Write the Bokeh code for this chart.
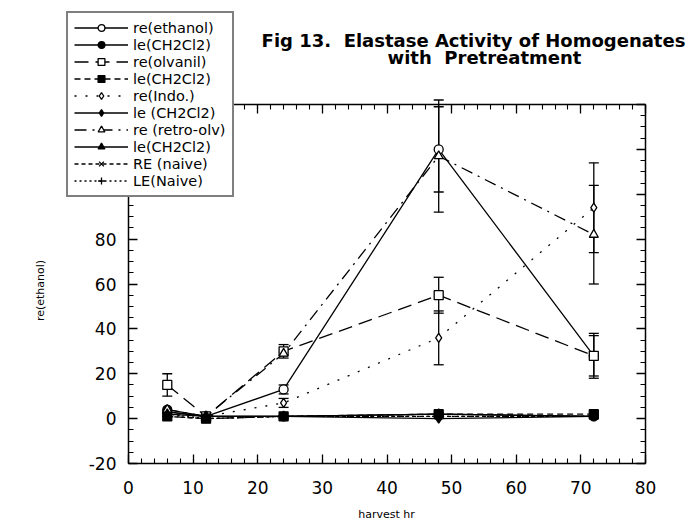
import math
from bokeh.plotting import figure
from bokeh.models import (ColumnDataSource, Legend, LegendItem, Label, LinearAxis,
                          FixedTicker, Whisker, TeeHead, Range1d)
from bokeh.embed import file_html
from bokeh.resources import INLINE

# ---- data ----
hours = [6, 12, 24, 48, 72]
series_names = ["re(ethanol)", "le(CH2Cl2)", "re(olvanil)", "le(CH2Cl2)", "re(Indo.)",
                "le (CH2Cl2)", "re (retro-olv)", "le(CH2Cl2)", "RE (naive)", "LE(Naive)"]
re_ethanol = [3, 1, 13, 120, 28]
le_ch2cl2_a = [4, 1, 1, 2, 1]
re_olvanil = [15, 1, 30, 55, 28]
le_ch2cl2_b = [1, 0, 1, 2, 2]
re_indo = [2, 1, 7, 36, 94]
le_ch2cl2_c = [3, 1, 1, 0, 1]
re_retro = [4, 1, 29, 117, 82]
le_ch2cl2_d = [2, 1, 1, 2, 1]
re_naive = [1, 0, 1, 1, 1]
le_naive = [2, 0, 1, 1, 1]

err_ethanol = [0, 0, 2, 19, 10]
err_olvanil = [5, 0, 3, 8, 9]
err_indo = [0, 0, 2, 12, 20]
err_retro = [0, 0, 0, 25, 22]

x_ticks = [0, 10, 20, 30, 40, 50, 60, 70, 80]
y_ticks = [-20, 0, 20, 40, 60, 80, 100, 120, 140]
y_tick_labels = ["-20", "0", "20", "40", "60", "80", "", "", ""]
x_tick_labels = ["0", "10", "20", "30", "40", "50", "60", "70", "80"]
x_lo, x_hi = 0, 80
y_lo, y_hi = -20, 140

FONT = "DejaVu Sans"
W, H = 687, 525
# plot box in canvas pixels
BOX_L, BOX_R, BOX_T, BOX_B = 128, 645, 104, 463
sx = (BOX_R - BOX_L) / (x_hi - x_lo)
sy = (BOX_B - BOX_T) / (y_hi - y_lo)
x_range = Range1d(x_lo - BOX_L / sx, x_hi + (W - BOX_R) / sx)
y_range = Range1d(y_lo - (H - BOX_B) / sy, y_hi + BOX_T / sy)

p = figure(width=W, height=H, output_backend="svg", toolbar_location=None,
           x_range=x_range, y_range=y_range,
           min_border_left=0, min_border_right=0, min_border_top=0, min_border_bottom=0)
p.grid.visible = False
p.outline_line_color = None
p.background_fill_color = "white"
p.border_fill_color = "white"

xt = FixedTicker(ticks=x_ticks, minor_ticks=[v for v in range(x_lo, x_hi + 1, 2)])
yt = FixedTicker(ticks=y_ticks, minor_ticks=[v for v in range(y_lo, y_hi + 1, 5)])

def style_axis(ax):
    ax.axis_line_color = "black"
    ax.axis_line_width = 1.5
    ax.major_tick_in = 9
    ax.major_tick_out = 0
    ax.minor_tick_in = 5
    ax.minor_tick_out = 0
    ax.major_tick_line_width = 1.3
    ax.minor_tick_line_width = 1.1
    ax.major_tick_line_color = "black"
    ax.minor_tick_line_color = "black"
    ax.major_label_text_font = FONT
    ax.major_label_text_font_size = "17px"
    ax.major_label_text_color = "black"

xa = p.xaxis[0]
ya = p.yaxis[0]
xa.ticker = xt
ya.ticker = yt
xa.major_label_overrides = {t: l for t, l in zip(x_ticks, x_tick_labels)}
ya.major_label_overrides = {t: l for t, l in zip(y_ticks, y_tick_labels)}
style_axis(xa)
style_axis(ya)
xa.major_label_standoff = 17
ya.major_label_standoff = 12
xa.fixed_location = y_lo
ya.fixed_location = x_lo
xa.bounds = (x_lo, x_hi)
ya.bounds = (y_lo, y_hi)

ax_top = LinearAxis(ticker=xt, fixed_location=y_hi, bounds=(x_lo, x_hi),
                    major_label_overrides={t: "" for t in x_ticks})
ax_right = LinearAxis(ticker=yt, fixed_location=x_hi, bounds=(y_lo, y_hi),
                      major_label_overrides={t: "" for t in y_ticks})
style_axis(ax_top)
style_axis(ax_right)
p.add_layout(ax_top, "above")
p.add_layout(ax_right, "right")

specs = [
    (re_ethanol, "solid", "circle", "white"),
    (le_ch2cl2_a, "solid", "circle", "black"),
    (re_olvanil, "14 7", "square", "white"),
    (le_ch2cl2_b, "6 4", "square", "black"),
    (re_indo, "2 9", "diamond", "white"),
    (le_ch2cl2_c, "solid", "diamond", "black"),
    (re_retro, "12 6 2 6", "triangle", "white"),
    (le_ch2cl2_d, "solid", "triangle", "black"),
    (re_naive, "4 3", "x", "black"),
    (le_naive, "2 3", "cross", "black"),
]

items = []
for name, (vals, dash, marker, fill) in zip(series_names, specs):
    src = ColumnDataSource(dict(x=hours, y=vals))
    lr = p.line("x", "y", source=src, line_color="black", line_width=1.3, line_dash=dash)
    sr = p.scatter("x", "y", source=src, marker=marker, size=9, line_color="black",
                   fill_color=fill, line_width=1.3)
    items.append(LegendItem(label=name, renderers=[lr, sr]))

for vals, errs in [(re_ethanol, err_ethanol), (re_olvanil, err_olvanil),
                   (re_indo, err_indo), (re_retro, err_retro)]:
    xs = [h for h, e in zip(hours, errs) if e > 0]
    up = [v + e for v, e in zip(vals, errs) if e > 0]
    lo = [v - e for v, e in zip(vals, errs) if e > 0]
    es = ColumnDataSource(dict(base=xs, upper=up, lower=lo))
    w = Whisker(source=es, base="base", upper="upper", lower="lower", dimension="height",
                line_color="black", line_width=1.3,
                upper_head=TeeHead(size=10, line_color="black", line_width=1.3),
                lower_head=TeeHead(size=10, line_color="black", line_width=1.3))
    p.add_layout(w)

legend = Legend(items=items, location=(66, H - 197), orientation="vertical",
                border_line_color="black", border_line_width=2,
                background_fill_color="white", background_fill_alpha=1,
                label_text_font=FONT, label_text_font_size="14.5px",
                label_text_color="black",
                glyph_width=54, glyph_height=17, label_height=17, spacing=0,
                padding=6, margin=0, label_standoff=5)
p.add_layout(legend, "center")

p.add_layout(Label(x=473, y=H - 40, x_units="screen", y_units="screen",
                   text="Fig 13.\u00a0 Elastase Activity of Homogenates", text_font=FONT,
                   text_font_style="bold", text_font_size="18px", text_align="center",
                   text_baseline="middle", text_color="black"))
p.add_layout(Label(x=484, y=H - 57, x_units="screen", y_units="screen",
                   text="with\u00a0 Pretreatment", text_font=FONT,
                   text_font_style="bold", text_font_size="18px", text_align="center",
                   text_baseline="middle", text_color="black"))
p.add_layout(Label(x=386, y=H - 514, x_units="screen", y_units="screen",
                   text="harvest hr", text_font=FONT, text_font_size="11px",
                   text_align="center", text_baseline="middle", text_color="black"))
p.add_layout(Label(x=40, y=H - 290, x_units="screen", y_units="screen",
                   text="re(ethanol)", text_font=FONT, text_font_size="11px",
                   text_align="center", text_baseline="middle", angle=math.pi / 2,
                   text_color="black"))

open("out.html", "w").write(file_html(p, INLINE))
